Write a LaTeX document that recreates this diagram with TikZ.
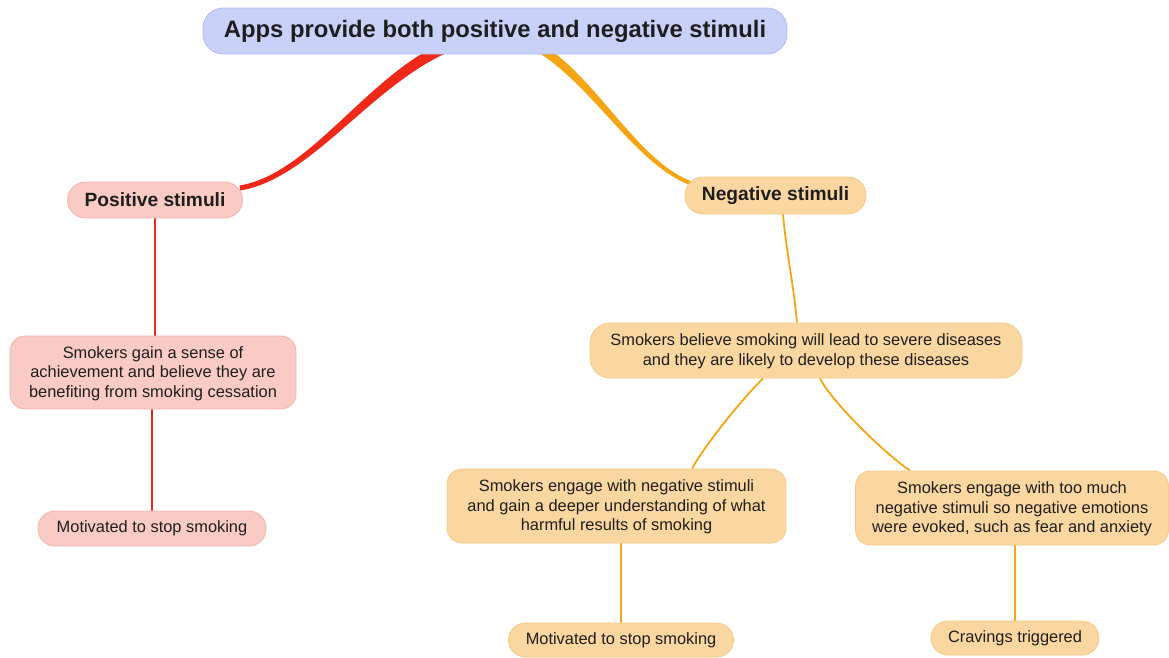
\documentclass[tikz,border=0pt]{standalone}
\usepackage{fontspec}
\setmainfont{Liberation Sans}
\usetikzlibrary{backgrounds}
\pgfdeclarelayer{paper}
\pgfsetlayers{paper,background,main}
\definecolor{rootfill}{HTML}{C9D1F9}
\definecolor{rootdraw}{HTML}{B3BCF2}
\definecolor{pinkfill}{HTML}{F9CBC4}
\definecolor{pinkdraw}{HTML}{F4B4AC}
\definecolor{orfill}{HTML}{FAD7A0}
\definecolor{ordraw}{HTML}{F6C985}
\definecolor{redline}{HTML}{F0281A}
\definecolor{orline}{HTML}{F5A512}
\definecolor{ink}{HTML}{1E1E1E}
\tikzset{
  box/.style={rounded corners=15pt, line width=0.8pt, inner sep=0pt, align=center, text=ink,
    font=\fontsize{16.4}{19.5}\selectfont},
  rootbox/.style={box, fill=rootfill, draw=rootdraw, rounded corners=20pt,
    font=\bfseries\fontsize{23.8}{27}\selectfont},
  pinkbox/.style={box, fill=pinkfill, draw=pinkdraw},
  orbox/.style={box, fill=orfill, draw=ordraw},
  headfont/.style={font=\bfseries\fontsize{19.2}{22}\selectfont},
  rline/.style={draw=redline, line width=1.8pt},
  oline/.style={draw=orline, line width=1.8pt},
}
\begin{document}
\begin{tikzpicture}[x=1pt,y=-1pt]
\useasboundingbox (0,0) rectangle (1169,657);
\begin{pgfonlayer}{paper}
  \fill[white] (0,0) rectangle (1169,657);
\end{pgfonlayer}

% central topic
\node[rootbox, minimum width=584pt, minimum height=46pt] (root) at (495,31)
  {Apps provide both positive and negative stimuli};

% positive branch
\node[pinkbox, headfont, minimum width=175pt, minimum height=36pt, rounded corners=18pt] (pos) at (155,200)
  {Positive stimuli};
\node[pinkbox, minimum width=286pt, minimum height=73pt] (gain) at (153,372.5)
  {\strut Smokers gain a sense of\\achievement and believe they are\\benefiting from smoking cessation};
\node[pinkbox, minimum width=228pt, minimum height=35pt, rounded corners=17pt] (mot1) at (152,528.5)
  {Motivated to stop smoking};

% negative branch
\node[orbox, headfont, minimum width=181pt, minimum height=37pt, rounded corners=18pt] (neg) at (775.5,195.5)
  {Negative stimuli};
\node[orbox, minimum width=432pt, minimum height=55pt, rounded corners=20pt] (bel) at (806,350.5)
  {\strut Smokers believe smoking will lead to severe diseases\\and they are likely to develop these diseases};
\node[orbox, minimum width=339pt, minimum height=74pt] (eng1) at (616.5,506)
  {\strut Smokers engage with negative stimuli\\and gain a deeper understanding of what\\harmful results of smoking};
\node[orbox, minimum width=313pt, minimum height=74pt] (eng2) at (1012,508)
  {\strut Smokers engage with too much\\negative stimuli so negative emotions\\were evoked, such as fear and anxiety};
\node[orbox, minimum width=225pt, minimum height=34pt, rounded corners=17pt] (mot2) at (621,640)
  {Motivated to stop smoking};
\node[orbox, minimum width=168pt, minimum height=34pt, rounded corners=17pt] (crav) at (1015,638)
  {Cravings triggered};

\begin{scope}[on background layer]
  % tapered main branches
  \fill[redline] ([shift={(-47.1,-14.1)}]root.south)
    .. controls ([shift={(-127.1,18.9)}]root.south) and ([shift={(68.6,-26.5)}]pos.east) ..
    ([shift={(-3.4,-14.5)}]pos.east) -- ([shift={(-2.6,-9.5)}]pos.east)
    .. controls ([shift={(69.4,-21.5)}]pos.east) and ([shift={(-122.9,29.1)}]root.south) ..
    ([shift={(-42.9,-3.9)}]root.south) -- cycle;
  \fill[orline] ([shift={(42.2,-12.9)}]root.south)
    .. controls ([shift={(102.2,20.1)}]root.south) and ([shift={(-135,-25.4)}]neg.center) ..
    ([shift={(-75,-11.4)}]neg.center) -- ([shift={(-76,-7.6)}]neg.center)
    .. controls ([shift={(-136,-21.6)}]neg.center) and ([shift={(97.8,27.9)}]root.south) ..
    ([shift={(37.8,-5.1)}]root.south) -- cycle;

  % positive sub-branches
  \draw[rline] (pos.south) -- (pos.south |- gain.north);
  \draw[rline] (mot1.north |- gain.south) -- (mot1.north);

  % negative sub-branches
  \draw[oline] ([xshift=7.5pt]neg.south) .. controls +(3,35) and +(-3,-35) .. ([xshift=-9pt]bel.north);
  \draw[oline] ([xshift=-43pt]bel.south) .. controls +(-24,24) and +(12,-22) .. ([xshift=75.5pt]eng1.north);
  \draw[oline] ([xshift=14pt]bel.south) .. controls +(12,24) and +(-24,-16) .. ([xshift=-102pt]eng2.north);
  \draw[oline] (mot2.north |- eng1.south) -- (mot2.north);
  \draw[oline] (crav.north |- eng2.south) -- (crav.north);
\end{scope}
\end{tikzpicture}
\end{document}
